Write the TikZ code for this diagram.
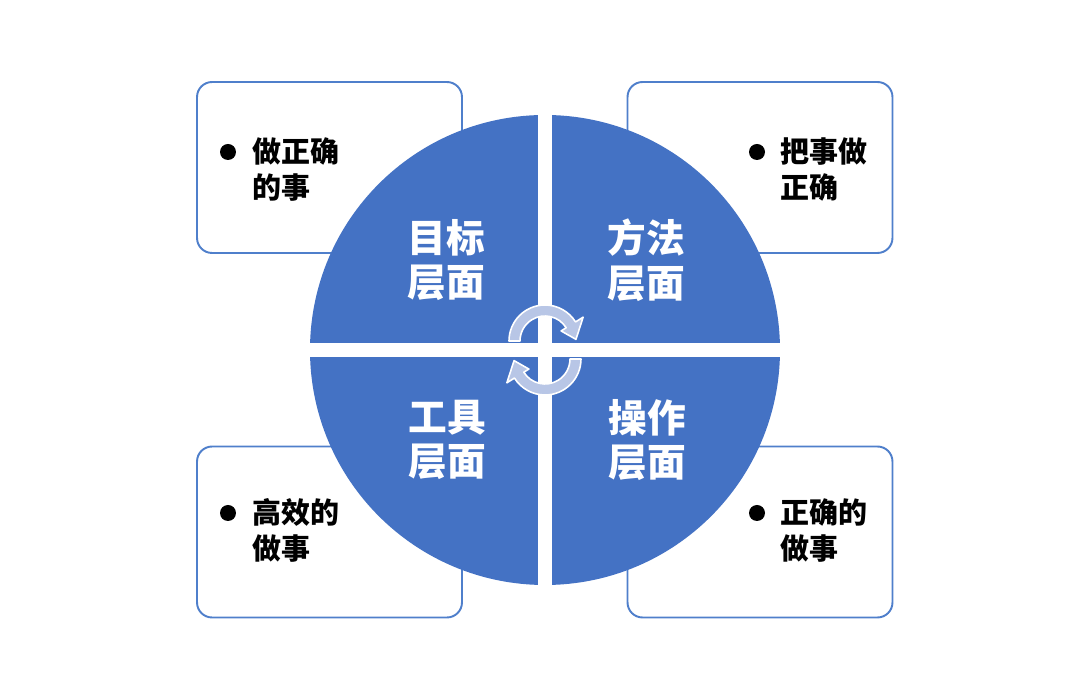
\documentclass[tikz,border=0pt]{standalone}
\usepackage{fontspec}
\newfontfamily\cjk{Noto Sans CJK SC}
\usetikzlibrary{positioning, calc}
\usepackage{xcolor}
\definecolor{DiscBlue}{HTML}{4472C4}
\definecolor{EdgeBlue}{HTML}{4F7FCB}
\definecolor{SpinFill}{HTML}{B8C6E6}
\tikzset{
  qbox/.style={draw=EdgeBlue, line width=1.1pt, rounded corners=0.3cm, fill=white,
    minimum width=5.3cm, minimum height=3.42cm},
  btxt/.style={anchor=west, align=left, inner sep=0pt, font=\cjk\bfseries\fontsize{16.5}{20.2}\selectfont},
  qtxt/.style={align=center, inner sep=0pt, text=white, font=\cjk\bfseries\fontsize{22}{25.5}\selectfont},
  dot/.style={circle, fill=black, inner sep=0pt, minimum size=0.32cm},
  spin/.style={fill=SpinFill, draw=white, line width=0.9pt, line join=round},
}

\begin{document}
\begin{tikzpicture}[x=0.02cm, y=0.02cm]
    \useasboundingbox (0,0) rectangle (1080,693);
    % four boxes behind the disc
    \node[qbox] (tlbox) at (329.5,525.5) {};
    \node[qbox] (trbox) at (760,525.5) {};
    \node[qbox] (blbox) at (329.5,161) {};
    \node[qbox] (brbox) at (760,161) {};
    \node[dot] (tldot) at (228,541) {};
    \node[btxt] (tltxt) at (252,523.5) {做正确\\的事};
    \node[dot] (trdot) at (757,541) {};
    \node[btxt] (trtxt) at (780,523.5) {把事做\\正确};
    \node[dot] (bldot) at (228,180) {};
    \node[btxt] (bltxt) at (252,162.5) {高效的\\做事};
    \node[dot] (brdot) at (757,180) {};
    \node[btxt] (brtxt) at (780,162.5) {正确的\\做事};
    % disc cut in four
    \coordinate (o) at (545,343);
    \fill[DiscBlue] (o) circle (235);
    \fill[white] (538,100) rectangle (552,586);
    \fill[white] (300,336) rectangle (790,350);
    \node[qtxt] (goal) at (446,433) {目标\\层面};
    \node[qtxt] (method) at (646,433) {方法\\层面};
    \node[qtxt] (tool) at (447,253) {工具\\层面};
    \node[qtxt] (oper) at (647,253) {操作\\层面};
    % turning arrows in the middle
    \coordinate (up) at (545,352);
    \coordinate (dn) at (545,334);
    \draw[spin] ($(up)+(180:36)$) arc[start angle=180, end angle=32, radius=36]
      -- ($(up)+(32:45)$) -- ($(up)+(3:31)$) -- ($(up)+(32:19)$)
      -- ($(up)+(32:25)$) arc[start angle=32, end angle=180, radius=25] -- cycle;
    \draw[spin] ($(dn)+(0:36)$) arc[start angle=0, end angle=-148, radius=36]
      -- ($(dn)+(-148:45)$) -- ($(dn)+(-177:31)$) -- ($(dn)+(-148:19)$)
      -- ($(dn)+(-148:25)$) arc[start angle=-148, end angle=0, radius=25] -- cycle;
  \end{tikzpicture}
\end{document}
